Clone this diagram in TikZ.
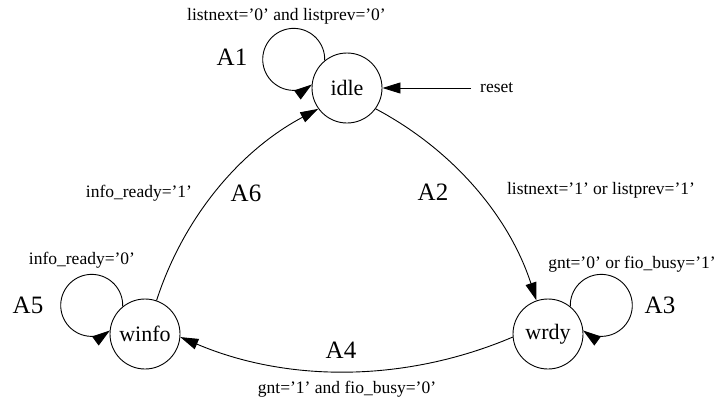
\documentclass[tikz,border=0pt]{standalone}
\usepackage{fontspec}
\setmainfont{Liberation Serif}
\usetikzlibrary{arrows.meta, positioning}

\begin{document}
\begin{tikzpicture}[
    x=1pt, y=1pt,
    state/.style={circle, draw, line width=0.9pt, minimum size=70pt, inner sep=0pt,
                  font=\fontsize{22}{24}\selectfont},
    trans/.style={line width=0.9pt, -{Triangle[length=18pt, width=11pt]}},
    cond/.style={font=\fontsize{17.5}{20}\selectfont, inner sep=0pt},
    tag/.style={font=\fontsize{25}{28}\selectfont, inner sep=0pt}
]
\useasboundingbox (0,0) rectangle (718,-399);
%
\node[state] (idle)  at (347,-88)  {idle};
\node[state] (wrdy)  at (548,-334) {wrdy};
\node[state] (winfo) at (145,-334) {winfo};

%
\draw[trans] (idle.129) arc[start angle=-2, end angle=306, radius=31pt];
\draw[trans] (wrdy.51) arc[start angle=182, end angle=-126, radius=31pt];
\draw[trans] (winfo.129) arc[start angle=-2, end angle=306, radius=31pt];
\draw[trans] (idle.-36) to[out=-28, in=108, looseness=0.9] (wrdy.109);
\draw[trans] (wrdy.185) to[out=-157, in=-23, looseness=0.9] (winfo.-5);
\draw[trans] (winfo.71) to[out=72, in=-152, looseness=0.9] (idle.216);
\coordinate (rst) at (471,-88);
\draw[trans] (rst) -- (idle);
\node[cond, right=9pt of rst, anchor=west] (reset) {reset};

%
\node[cond] (c1) at (286.5,-16) {listnext='0' and listprev='0'};
\node[tag]  (a1) at (232,-57)   {A1};
\node[tag]  (a2) at (433,-192)  {A2};
\node[cond] (c2) at (601,-190)  {listnext='1' or listprev='1'};
\node[cond] (c3) at (632,-264)  {gnt='0' or fio\_busy='1'};
\node[tag]  (a3) at (660,-305)  {A3};
\node[tag]  (a4) at (341,-350)  {A4};
\node[cond] (c4) at (347,-389)  {gnt='1' and fio\_busy='0'};
\node[tag]  (a5) at (28,-305)   {A5};
\node[cond] (c5) at (82,-260)   {info\_ready='0'};
\node[cond] (c6) at (139,-193)  {info\_ready='1'};
\node[tag]  (a6) at (246,-193)  {A6};
\end{tikzpicture}
\end{document}
